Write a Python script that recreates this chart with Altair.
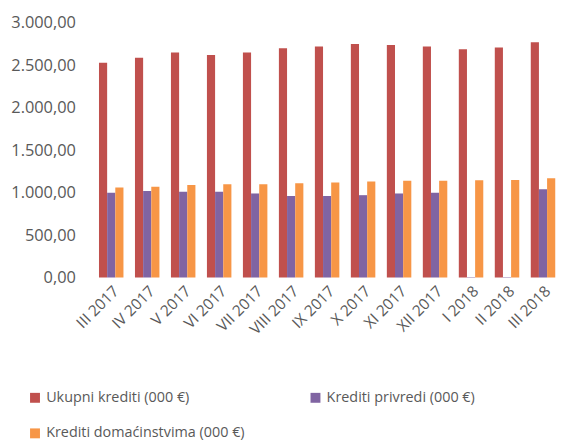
import altair as alt
import pandas as pd

months = ["III 2017", "IV 2017", "V 2017", "VI 2017", "VII 2017", "VIII 2017", "IX 2017",
          "X 2017", "XI 2017", "XII 2017", "I 2018", "II 2018", "III 2018"]
ukupni = [2530, 2590, 2650, 2620, 2650, 2700, 2720, 2750, 2740, 2720, 2690, 2710, 2770]
privredi = [1000, 1020, 1010, 1010, 990, 960, 960, 970, 990, 1000, 5, 5, 1040]
domacinstva = [1060, 1070, 1090, 1100, 1100, 1110, 1120, 1130, 1140, 1140, 1145, 1150, 1170]

series = ["Ukupni krediti (000 €)", "Krediti privredi (000 €)", "Krediti domaćinstvima (000 €)"]
colors = ["#C0504D", "#8064A2", "#F79646"]

rows = []
for i, m in enumerate(months):
    for s, vals in zip(series, [ukupni, privredi, domacinstva]):
        rows.append({"mjesec": m, "serija": s, "vrijednost": vals[i]})
df = pd.DataFrame(rows)

font = "Open Sans"
gray = "#595959"

chart = alt.Chart(df).mark_bar().encode(
    x=alt.X("mjesec:N", sort=months, title=None,
            scale=alt.Scale(paddingInner=0.32, paddingOuter=0.16),
            axis=alt.Axis(labelAngle=-45, labelFont=font, labelFontSize=15.5, labelColor=gray,
                          domain=False, ticks=False, labelPadding=6)),
    xOffset=alt.XOffset("serija:N", sort=series),
    y=alt.Y("vrijednost:Q", title=None,
            scale=alt.Scale(domain=[0, 3000], nice=False),
            axis=alt.Axis(values=[0, 500, 1000, 1500, 2000, 2500, 3000], grid=False, domain=False,
                          ticks=False, labelFont=font, labelFontSize=16.5, labelColor=gray,
                          labelPadding=18,
                          labelExpr="replace(replace(replace(format(datum.value, ',.2f'), ',', '#'), '.', ','), '#', '.')")),
    color=alt.Color("serija:N", sort=series,
                    scale=alt.Scale(domain=series, range=colors),
                    legend=alt.Legend(title=None, orient="none", legendX=-66, legendY=371,
                                      direction="horizontal", columns=2, columnPadding=64,
                                      rowPadding=21, symbolType="square", symbolSize=100,
                                      symbolStrokeWidth=0, labelFont=font, labelFontSize=14.5,
                                      labelColor=gray, labelLimit=300)),
).properties(width=472, height=257, padding={"left": 2, "top": 5, "right": 0, "bottom": 0}).configure_view(stroke=None)

chart.save("out.html", embed_options={"renderer": "svg", "actions": False})
